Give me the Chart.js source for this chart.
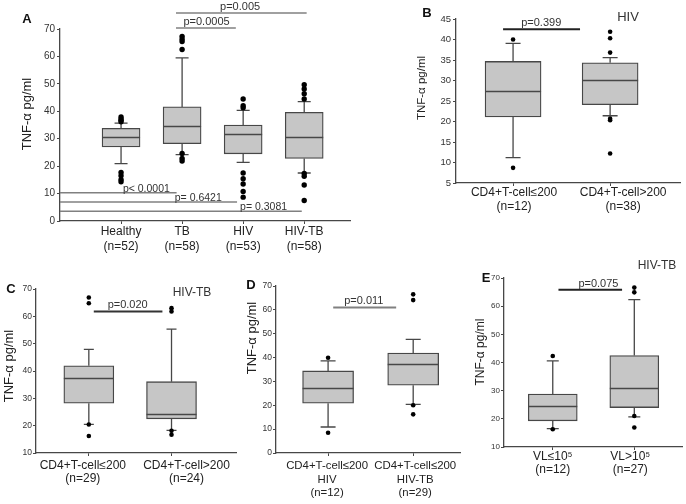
<!DOCTYPE html>
<html>
<head>
<meta charset="utf-8">
<script src="https://cdn.jsdelivr.net/npm/chart.js@4.4.1/dist/chart.umd.min.js"></script>
<style>
body { margin: 0; background: #fff; }
#wrap { position: relative; width: 686px; height: 504px; overflow: hidden; background: #fff; }
canvas { position: absolute; }
</style>
</head>
<body>
<div id="wrap">
  <canvas id="cA"></canvas>
  <canvas id="cB"></canvas>
  <canvas id="cC"></canvas>
  <canvas id="cD"></canvas>
  <canvas id="cE"></canvas>
</div>
<script>
// ---- data ----
// A: all groups
const catsA = [['Healthy', '(n=52)'], ['TB', '(n=58)'], ['HIV', '(n=53)'], ['HIV-TB', '(n=58)']];
const q1A  = [27.0, 28.2, 24.5, 22.8];
const medA = [30.6, 34.5, 31.7, 30.6];
const q3A  = [33.8, 41.6, 35.0, 39.6];
const loA  = [20.9, 24.2, 21.4, 17.5];
const hiA  = [35.7, 59.5, 40.3, 43.5];
const outA = [
  [37.9, 37.2, 36.7, 36.2, 17.7, 16.5, 15.1, 14.3],
  [67.3, 66.3, 65.4, 62.5, 24.6, 22.8, 21.9],
  [44.5, 42.0, 41.3, 17.5, 15.4, 13.5, 10.8, 8.7],
  [49.7, 48.1, 46.4, 44.5, 17.3, 16.3, 13.1, 7.5]
];
const pA = [
  {x1: 1.9, x2: 4.04, y: 75.8, text: 'p=0.005', at: 2.95, align: 'center'},
  {x1: 1.9, x2: 2.88, y: 70.4, text: 'p=0.0005', at: 2.4, align: 'center'},
  {x1: 0, x2: 1.91, y: 10.3, text: 'p< 0.0001', at: 1.03, align: 'left'},
  {x1: 0, x2: 2.9, y: 6.9, text: 'p= 0.6421', at: 1.88, align: 'left'},
  {x1: 0, x2: 3.96, y: 3.6, text: 'p= 0.3081', at: 2.95, align: 'left'}
];

// B: HIV by CD4 count
const catsB = [['CD4+T-cell≤200', '(n=12)'], ['CD4+T-cell>200', '(n=38)']];
const q1B  = [21.1, 24.1];
const medB = [27.5, 30.1];
const q3B  = [34.65, 34.3];
const loB  = [11.2, 21.4];
const hiB  = [39.05, 35.6];
const outB = [[40.0, 8.7], [41.9, 40.3, 36.8, 20.7, 20.3, 12.2]];
const pB = [{x1: 0.897, x2: 1.69, y: 42.5, text: 'p=0.399', at: 1.29, align: 'center'}];

// C: HIV-TB by CD4 count
const catsC = [['CD4+T-cell≤200', '(n=29)'], ['CD4+T-cell>200', '(n=24)']];
const q1C  = [28.2, 22.5];
const medC = [37.3, 24.4];
const q3C  = [41.9, 36.1];
const loC  = [20.5, 18.3];
const hiC  = [47.9, 55.3];
const outC = [[66.9, 64.8, 20.4, 16.2], [63.0, 61.8, 18.1, 16.7]];
const pC = [{x1: 1.06, x2: 1.89, y: 61.8, text: 'p=0.020', at: 1.47, align: 'center'}];

// D: CD4<=200, HIV vs HIV-TB
const catsD = [['CD4+T-cell≤200', 'HIV', '(n=12)'], ['CD4+T-cell≤200', 'HIV-TB', '(n=29)']];
const q1D  = [20.9, 28.4];
const medD = [27.3, 37.1];
const q3D  = [34.4, 41.9];
const loD  = [10.9, 20.4];
const hiD  = [38.6, 47.6];
const outD = [[39.9, 8.5], [66.5, 64.1, 20.0, 16.2]];
const pD = [{x1: 1.06, x2: 1.8, y: 61.0, text: 'p=0.011', at: 1.42, align: 'center'}];

// E: HIV-TB by viral load
const catsE = [['VL≤10⁵', '(n=12)'], ['VL>10⁵', '(n=27)']];
const q1E  = [19.3, 24.0];
const medE = [24.7, 30.8];
const q3E  = [28.8, 42.5];
const loE  = [16.5, 20.7];
const hiE  = [40.6, 62.3];
const outE = [[42.3, 16.3], [66.6, 64.9, 21.0, 16.9]];
const pE = [{x1: 1.07, x2: 1.85, y: 65.8, text: 'p=0.075', at: 1.56, align: 'center'}];

const FONT = "'Liberation Sans', Arial, sans-serif";
const EDGE = '#474747';

function drawText(ctx, s, x, y, size, opt = {}) {
  ctx.save();
  ctx.font = (opt.bold ? 'bold ' : '') + size + 'px ' + FONT;
  ctx.fillStyle = opt.color || '#222';
  ctx.textAlign = opt.align || 'center';
  ctx.textBaseline = opt.base || 'middle';
  ctx.translate(x, y);
  if (opt.rot) ctx.rotate(opt.rot);
  ctx.fillText(s, 0, 0);
  ctx.restore();
}

function boxPanel(id, p) {
  const cv = document.getElementById(id);
  cv.width = p.box[2]; cv.height = p.box[3];
  cv.style.left = p.box[0] + 'px'; cv.style.top = p.box[1] + 'px';
  const [cl, ct, cw, ch] = p.box;
  const [L, T, R, B] = p.area;

  const extras = {
    id: 'boxExtras' + id,
    beforeDatasetsDraw(chart) {
      const {ctx, scales: {x, y}} = chart;
      ctx.save();
      ctx.strokeStyle = EDGE; ctx.lineWidth = 1.3;
      p.lo.forEach((lo, i) => {
        const px = x.getPixelForValue(i + 1), h = p.capW / 2;
        const yl = y.getPixelForValue(lo), yh = y.getPixelForValue(p.hi[i]);
        const y1 = y.getPixelForValue(p.q1[i]), y3 = y.getPixelForValue(p.q3[i]);
        ctx.beginPath();
        ctx.moveTo(px, y1); ctx.lineTo(px, yl);
        ctx.moveTo(px - h, yl); ctx.lineTo(px + h, yl);
        ctx.moveTo(px, y3); ctx.lineTo(px, yh);
        ctx.moveTo(px - h, yh); ctx.lineTo(px + h, yh);
        ctx.stroke();
      });
      ctx.restore();
    },
    afterDatasetsDraw(chart) {
      const {ctx, scales: {x, y}} = chart;
      ctx.save();
      ctx.strokeStyle = EDGE; ctx.lineWidth = 1.3;
      p.med.forEach((m, i) => {
        const px = x.getPixelForValue(i + 1), ym = Math.round(y.getPixelForValue(m)) + 0.5;
        ctx.beginPath();
        ctx.moveTo(px - p.boxW / 2, ym); ctx.lineTo(px + p.boxW / 2, ym);
        ctx.stroke();
      });
      // p-value brackets
      p.pv.forEach(b => {
        const yy = y.getPixelForValue(b.y);
        ctx.strokeStyle = p.pColor; ctx.lineWidth = p.pWidth;
        ctx.beginPath();
        ctx.moveTo(x.getPixelForValue(b.x1), yy); ctx.lineTo(x.getPixelForValue(b.x2), yy);
        ctx.stroke();
        const small = b.align === 'left';
        drawText(ctx, b.text, x.getPixelForValue(b.at), yy - (small ? 1 : 3),
          small ? 10.5 : 11, {align: b.align, base: 'alphabetic', color: '#333'});
      });
      ctx.restore();
      // category labels under the axis ticks (the figure shifts some of them)
      p.cats.forEach((lines, i) => {
        const px = x.getPixelForValue(i + 1) + (p.shift ? p.shift[i] : 0);
        lines.forEach((s, j) => drawText(ctx, s, px, p.labY - ct + j * p.labLH, p.labFont || 12, {color: '#222'}));
      });
      // titles and letters
      drawText(ctx, 'TNF-α pg/ml', p.ytitle[0] - cl, p.ytitle[1] - ct, p.ytitle[2], {rot: -Math.PI / 2, color: '#222'});
      drawText(ctx, p.letter[0], p.letter[1] - cl, p.letter[2] - ct, 13, {bold: true, color: '#111'});
      if (p.group) drawText(ctx, p.group[0], p.group[1] - cl, p.group[2] - ct, p.group[3], {color: '#333'});
    }
  };

  const yW = L - cl - p.padL;
  return new Chart(cv, {
    type: 'bar',
    data: {
      datasets: [
        {
          type: 'bar',
          data: p.cats.map((c, i) => ({x: i + 1, y: [p.q1[i], p.q3[i]]})),
          backgroundColor: '#c6c6c6',
          borderColor: EDGE,
          borderWidth: 1.3,
          borderSkipped: false,
          barThickness: p.boxW
        },
        {
          type: 'scatter',
          data: p.out.flatMap((arr, i) => arr.map(v => ({x: i + 1, y: v}))),
          pointRadius: p.dot,
          pointBackgroundColor: '#000',
          pointBorderWidth: 0
        }
      ]
    },
    options: {
      responsive: false,
      animation: false,
      events: [],
      layout: {padding: {left: p.padL, top: T - ct, right: cl + cw - R, bottom: ct + ch - B - p.xH}},
      plugins: {legend: {display: false}, tooltip: {enabled: false}},
      scales: {
        x: {
          type: 'linear',
          min: p.xr[0], max: p.xr[1],
          offset: false,
          afterBuildTicks: s => { s.ticks = p.cats.map((c, i) => ({value: i + 1})); },
          afterFit: s => { s.height = p.xH; },
          grid: {display: true, drawOnChartArea: false, offset: false, tickLength: 3, color: EDGE, lineWidth: 1},
          border: {color: EDGE, width: 1.3},
          ticks: {display: false}
        },
        y: {
          min: p.yr[0], max: p.yr[1],
          afterFit: s => { s.width = yW; },
          grid: {display: true, drawOnChartArea: false, tickLength: 3, color: EDGE, lineWidth: 1},
          border: {color: EDGE, width: 1.3},
          ticks: {stepSize: p.yr[2], padding: p.yPad || 2, color: '#333', font: {family: FONT, size: p.yFont}}
        }
      }
    },
    plugins: [extras]
  });
}

boxPanel('cA', {
  cats: catsA, q1: q1A, med: medA, q3: q3A, lo: loA, hi: hiA, out: outA, pv: pA,
  box: [0, 0, 360, 262], area: [60, 29, 350, 221], padL: 30, xH: 40, labY: 232, labLH: 15,
  xr: [0, 4.75], yr: [0, 70, 10], yFont: 10, boxW: 38, capW: 13, dot: 2.7,
  pColor: '#808080', pWidth: 1.5, ytitle: [27, 114, 13], letter: ['A', 27, 19]
});
boxPanel('cB', {
  cats: catsB, q1: q1B, med: medB, q3: q3B, lo: loB, hi: hiB, out: outB, pv: pB,
  box: [360, 0, 326, 250], area: [456, 19, 680, 183], padL: 66, xH: 45, labY: 193, labLH: 14, shift: [1, 13],
  xr: [0.412, 2.72], yr: [5, 45, 5], yFont: 9.5, boxW: 56, capW: 15, dot: 2.3,
  pColor: '#222', pWidth: 2, ytitle: [422, 88, 11.5], letter: ['B', 427, 13], group: ['HIV', 628, 17, 13]
});
boxPanel('cC', {
  cats: catsC, q1: q1C, med: medC, q3: q3C, lo: loC, hi: hiC, out: outC, pv: pC,
  box: [0, 250, 240, 254], area: [36, 289, 237, 453], padL: 14, xH: 40, labY: 466, labLH: 13, shift: [-6, 15],
  xr: [0.361, 2.78], yr: [10, 70, 10], yFont: 8.5, yPad: 1, boxW: 50, capW: 10, dot: 2.3,
  pColor: '#333', pWidth: 2, ytitle: [9, 366, 13], letter: ['C', 11, 289], group: ['HIV-TB', 192, 293, 12]
});
boxPanel('cD', {
  cats: catsD, q1: q1D, med: medD, q3: q3D, lo: loD, hi: hiD, out: outD, pv: pD,
  box: [240, 250, 230, 254], area: [276, 286, 460, 453], padL: 12, xH: 48, labY: 466, labLH: 13.5,
  labFont: 11.4, shift: [-1, 2],
  xr: [0.388, 2.55], yr: [0, 70, 10], yFont: 8.5, yPad: 1, boxW: 51, capW: 15, dot: 2.3,
  pColor: '#808080', pWidth: 2, ytitle: [252, 338, 13], letter: ['D', 251, 285]
});
boxPanel('cE', {
  cats: catsE, q1: q1E, med: medE, q3: q3E, lo: loE, hi: hiE, out: outE, pv: pE,
  box: [470, 250, 216, 254], area: [504, 278, 683, 447], padL: 12, xH: 40, labY: 457, labLH: 13, shift: [0, -4],
  xr: [0.402, 2.585], yr: [10, 70, 10], yFont: 8, yPad: 1, boxW: 49, capW: 12, dot: 2.3,
  pColor: '#222', pWidth: 2, ytitle: [481, 352, 12], letter: ['E', 486, 278], group: ['HIV-TB', 657, 266, 12]
});
</script>
</body>
</html>
